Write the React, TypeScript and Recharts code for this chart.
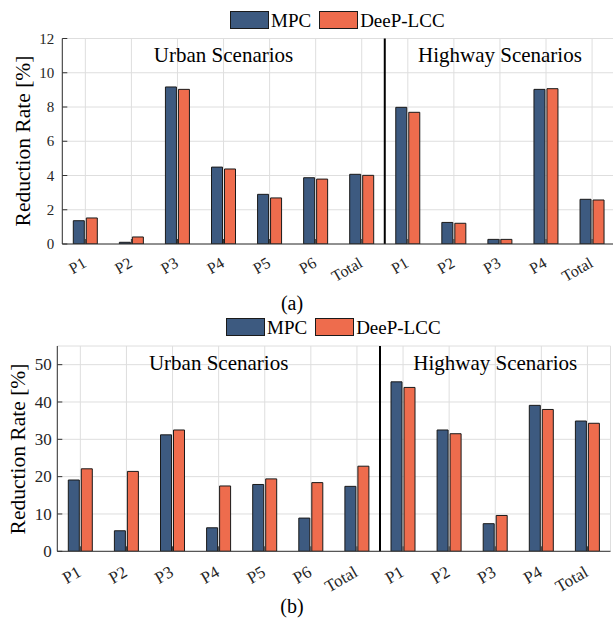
import React from 'react';
import { BarChart, Bar, XAxis, YAxis, CartesianGrid, ReferenceLine, ReferenceDot } from 'recharts';

const categories = ['P1', 'P2', 'P3', 'P4', 'P5', 'P6', 'Total', 'P1', 'P2', 'P3', 'P4', 'Total'];
const xPositions = [1, 2, 3, 4, 5, 6, 7, 8, 9, 10, 11, 12];
const mpcA = [1.36, 0.1, 9.17, 4.49, 2.9, 3.87, 4.07, 7.98, 1.26, 0.27, 9.03, 2.61];
const deepA = [1.52, 0.41, 9.03, 4.38, 2.69, 3.79, 4.01, 7.69, 1.21, 0.27, 9.07, 2.57];
const mpcB = [19.1, 5.5, 31.2, 6.3, 17.9, 8.9, 17.4, 45.4, 32.5, 7.4, 39.1, 34.9];
const deepB = [22.1, 21.4, 32.5, 17.5, 19.4, 18.4, 22.8, 43.9, 31.5, 9.6, 38.0, 34.3];
const yTicksA = [0, 2, 4, 6, 8, 10, 12];
const yTicksB = [0, 10, 20, 30, 40, 50];
const seriesNames = ['MPC', 'DeeP-LCC'];
const scenarioNames = ['Urban Scenarios', 'Highway Scenarios'];

const MPC_COLOR = '#3d5a80';
const DEEP_COLOR = '#ee6c4d';
const FONT = 'Liberation Serif, serif';
const AXIS = '#333333';

const makeData = (m: number[], d: number[]) =>
  xPositions.map((x, i) => ({ x, mpc: m[i], deep: d[i] }));

const XTick = (props: any) => {
  const { x, y, payload, fontSize, dy } = props;
  const ax = x + 2;
  const ay = y + dy;
  return (
    <text x={ax} y={ay} textAnchor="end" fill="#262626"
      style={{ fontFamily: FONT, fontSize }}
      transform={`rotate(-30 ${ax} ${ay})`}>
      {categories[payload.value - 1]}
    </text>
  );
};

const YTick = (props: any) => {
  const { x, y, payload, fontSize } = props;
  return (
    <text x={x} y={y} dy={fontSize * 0.34} textAnchor="end" fill="#262626"
      style={{ fontFamily: FONT, fontSize }}>
      {payload.value}
    </text>
  );
};

const ScenarioLabel = (props: any) => {
  const { viewBox, text } = props;
  const cx = viewBox.x + (viewBox.width || 0) / 2;
  const cy = viewBox.y + (viewBox.height || 0) / 2;
  return (
    <text x={cx} y={cy} dy={7.3} textAnchor="middle" fill="#000"
      style={{ fontFamily: FONT, fontSize: 21 }}>
      {text}
    </text>
  );
};

type PanelProps = {
  top: number;
  height: number;
  marginTop: number;
  yWidth: number;
  rightMargin: number;
  xHeight: number;
  data: any[];
  yMax: number;
  yTicks: number[];
  tickFont: number;
  yTickMargin: number;
  xTickFont: number;
  xTickDy: number;
  labelY: number;
};

const Panel = (p: PanelProps) => (
  <div style={{ position: 'absolute', left: 0, top: p.top }}>
    <BarChart width={630} height={p.height} data={p.data} barGap={2}
      margin={{ top: p.marginTop, right: p.rightMargin, bottom: 0, left: 0 }}>
      <CartesianGrid stroke="#dedede" strokeWidth={1} />
      <XAxis dataKey="x" type="number" domain={[0.5, 12.5]} ticks={xPositions} interval={0}
        allowDataOverflow height={p.xHeight} stroke={AXIS} tickSize={-5} tickMargin={5}
        tick={<XTick fontSize={p.xTickFont} dy={p.xTickDy} />} />
      <XAxis xAxisId="top" dataKey="x" type="number" orientation="top" domain={[0.5, 12.5]}
        ticks={xPositions} interval={0} allowDataOverflow height={0} stroke={AXIS}
        tickSize={-5} tick={false} />
      <YAxis type="number" domain={[0, p.yMax]} ticks={p.yTicks} interval={0} allowDataOverflow
        width={p.yWidth} stroke={AXIS} tickSize={-5} tickMargin={p.yTickMargin}
        tick={<YTick fontSize={p.tickFont} />} />
      <YAxis yAxisId="r" orientation="right" type="number" domain={[0, p.yMax]} ticks={p.yTicks}
        interval={0} allowDataOverflow width={0} stroke={AXIS} tickSize={-5} tick={false} />
      <Bar dataKey="mpc" fill={MPC_COLOR} stroke="#1a1a1a" strokeWidth={1} barSize={11}
        isAnimationActive={false} />
      <Bar dataKey="deep" fill={DEEP_COLOR} stroke="#1a1a1a" strokeWidth={1} barSize={11}
        isAnimationActive={false} />
      <ReferenceLine x={7.5} stroke="#000" strokeWidth={2} />
      <ReferenceDot x={4} y={p.labelY} r={0} fill="none" stroke="none"
        label={<ScenarioLabel text={scenarioNames[0]} />} />
      <ReferenceDot x={10} y={p.labelY} r={0} fill="none" stroke="none"
        label={<ScenarioLabel text={scenarioNames[1]} />} />
    </BarChart>
  </div>
);

const Legend = ({ top, left }: { top: number; left: number }) => (
  <div style={{ position: 'absolute', top, left, display: 'flex', alignItems: 'center', fontFamily: FONT, fontSize: 19, color: '#000', lineHeight: '17px' }}>
    <div style={{ width: 37, height: 16, background: MPC_COLOR, border: '1px solid #1a1a1a' }} />
    <span style={{ marginLeft: 2, marginRight: 8 }}>{seriesNames[0]}</span>
    <div style={{ width: 37, height: 16, background: DEEP_COLOR, border: '1px solid #1a1a1a' }} />
    <span style={{ marginLeft: 2 }}>{seriesNames[1]}</span>
  </div>
);

const YLabel = ({ cx, cy }: { cx: number; cy: number }) => (
  <div style={{ position: 'absolute', left: cx, top: cy, transform: 'translate(-50%, -50%) rotate(-90deg)', fontFamily: FONT, fontSize: 21.5, whiteSpace: 'nowrap', color: '#000', lineHeight: '24px' }}>
    Reduction Rate [%]
  </div>
);

const Caption = ({ cx, cy, text }: { cx: number; cy: number; text: string }) => (
  <div style={{ position: 'absolute', left: cx, top: cy, transform: 'translate(-50%, -50%)', fontFamily: FONT, fontSize: 20, color: '#000', lineHeight: '22px', zIndex: 2 }}>
    {text}
  </div>
);

export default function App() {
  const dataA = makeData(mpcA, deepA);
  const dataB = makeData(mpcB, deepB);
  return (
    <div style={{ position: 'absolute', left: 0, top: 0, width: 613, height: 622, overflow: 'hidden', background: '#fff' }}>
      <Panel top={0} height={300} marginTop={38.5} yWidth={62.3} rightMargin={14.9} xHeight={56}
        data={dataA} yMax={12} yTicks={yTicksA} tickFont={15} yTickMargin={13}
        xTickFont={16} xTickDy={22} labelY={11.06} />
      <Panel top={300} height={322} marginTop={46} yWidth={57.3} rightMargin={19.5} xHeight={70.7}
        data={dataB} yMax={55} yTicks={yTicksB} tickFont={17} yTickMargin={10.6}
        xTickFont={17} xTickDy={24} labelY={50.6} />
      <Legend top={11} left={230} />
      <Legend top={318} left={226} />
      <YLabel cx={22.5} cy={141} />
      <YLabel cx={17.5} cy={448.5} />
      <Caption cx={292} cy={303} text="(a)" />
      <Caption cx={292} cy={606} text="(b)" />
    </div>
  );
}
